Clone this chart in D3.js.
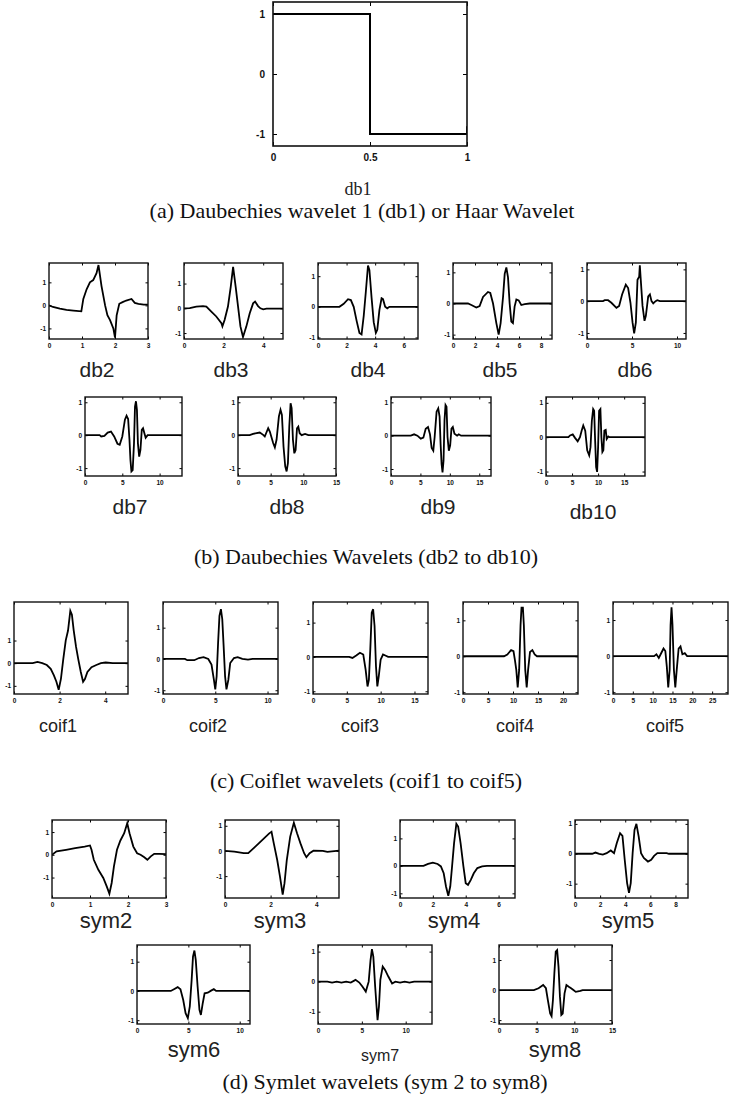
<!DOCTYPE html>
<html lang="en">
<head>
<meta charset="UTF-8">
<script src="https://cdn.jsdelivr.net/npm/d3@7"></script>
<title>Wavelet families</title>
<style>
  body { margin: 0; background: #fff; }
  .cap { font-family: "Liberation Serif", "Times New Roman", serif; font-size: 22px; fill: #111; }
  .name { font-family: "Liberation Sans", Arial, sans-serif; fill: #222; }
</style>
</head>
<body>
<svg id="fig" width="733" height="1095"></svg>
<script>
// ---- values ----
var names = ['db1','db2','db3','db4','db5','db6','db7','db8','db9','db10',
             'coif1','coif2','coif3','coif4','coif5',
             'sym2','sym3','sym4','sym5','sym6','sym7','sym8'];

var supports = [1, 3, 5, 7, 9, 11, 13, 15, 17, 19,  5, 11, 17, 23, 29,  3, 5, 7, 9, 11, 13, 15];
var yMin = [-1.2, -1.46, -1.24, -1.05, -1.14, -1.19, -1.24, -1.24, -1.21, -1.13,
            -1.36, -1.12, -1.08, -1.05, -1.05,
            -1.9, -1.87, -1.17, -1.48, -1.13, -1.41, -1.13];
var yMax = [1.2, 1.84, 1.83, 1.43, 1.3, 1.2, 1.16, 1.16, 1.16, 1.17,
            2.7, 1.82, 1.6, 1.51, 1.5,
            1.53, 1.23, 1.67, 1.13, 1.57, 1.22, 1.5];
var xTicks = [[0,0.5,1],[0,1,2,3],[0,2,4],[0,2,4,6],[0,2,4,6,8],[0,5,10],[0,5,10],[0,5,10,15],[0,5,10,15],[0,5,10,15],
              [0,2,4],[0,5,10],[0,5,10,15],[0,5,10,15,20],[0,5,10,15,20,25],
              [0,1,2,3],[0,2,4],[0,2,4,6],[0,2,4,6,8],[0,5,10],[0,5,10],[0,5,10,15]];
var yTicks = [-1, 0, 1];

var db1Pts = [[0,1],[0.5,1],[0.5,-1],[1,-1],[1,-0.87]];
var db2Pts = [[0,0],[0.12,-0.07],[0.33,-0.14],[0.53,-0.2],[0.74,-0.23],[0.98,-0.26],[1.04,0.28],[1.14,0.7],[1.24,1.0],[1.34,1.1],[1.44,1.4],[1.5,1.75],[1.59,0.85],[1.7,0],[1.77,-0.43],[1.85,-0.64],[1.95,-1.0],[2.0,-1.4],[2.05,-0.43],[2.13,0.07],[2.23,0.14],[2.34,0.21],[2.5,0.28],[2.6,0.11],[2.71,0.07],[2.87,0.03],[3,0.03]];
var db3Pts = [[0,0],[0.29,0.01],[0.62,0.07],[0.96,0.09],[1.13,0.07],[1.38,-0.13],[1.63,-0.33],[1.89,-0.6],[1.94,-0.73],[2.05,-0.47],[2.22,0.07],[2.36,0.87],[2.48,1.67],[2.61,0.87],[2.73,0.07],[2.85,-0.73],[2.98,-1.16],[3.15,-0.73],[3.32,-0.2],[3.49,0.2],[3.59,0.27],[3.74,0.09],[3.86,0],[4.0,-0.04],[4.17,-0.01],[5,-0.01]];
var db4Pts = [[0,0],[1.5,0],[1.8,0.1],[2.1,0.25],[2.3,0.22],[2.5,0],[2.7,-0.45],[2.9,-0.85],[3.05,-0.9],[3.2,-0.3],[3.35,0.5],[3.5,1.35],[3.6,1.2],[3.75,0.3],[3.9,-0.5],[4.05,-0.85],[4.15,-0.75],[4.3,-0.1],[4.45,0.28],[4.55,0.25],[4.7,0],[4.85,-0.05],[5.0,0],[7,0]];
var db5Pts = [[0,0],[1.36,0],[1.67,-0.05],[2.12,-0.13],[2.42,-0.08],[2.73,0.21],[3.18,0.37],[3.39,0.34],[3.64,0],[3.94,-0.63],[4.15,-1.0],[4.33,-0.63],[4.55,0.21],[4.7,0.95],[4.85,1.16],[5.0,0.84],[5.15,0],[5.3,-0.58],[5.45,-0.63],[5.6,-0.1],[5.76,0.13],[5.97,0.1],[6.21,-0.05],[6.52,-0.02],[6.97,0],[9,0]];
var db6Pts = [[0,0],[1.78,0],[1.97,0.03],[2.34,0.03],[2.71,-0.05],[3.27,-0.21],[3.57,-0.15],[3.9,0.21],[4.31,0.52],[4.57,0.41],[4.83,-0.05],[5.06,-0.67],[5.24,-1.01],[5.43,-0.67],[5.61,0.67],[5.8,0.77],[5.87,1.13],[5.95,0.77],[6.17,-0.15],[6.39,-0.62],[6.54,-0.46],[6.8,0.15],[6.99,0.21],[7.17,0],[7.36,-0.07],[7.62,0],[7.81,0.03],[8.1,0],[11,0]];
var db7Pts = [[0,0],[1.96,0],[2.17,-0.04],[2.6,-0.02],[3.04,0.08],[3.48,0.11],[3.91,-0.04],[4.35,-0.26],[4.65,-0.29],[5.0,-0.04],[5.35,0.47],[5.57,0.59],[5.78,0.49],[5.96,-0.14],[6.09,-0.75],[6.22,-1.1],[6.39,-1.06],[6.57,-0.24],[6.7,0.87],[6.83,1.03],[6.96,0.77],[7.09,-0.24],[7.26,-0.65],[7.43,-0.45],[7.61,0.16],[7.78,0.21],[7.96,0.06],[8.13,-0.08],[8.39,0],[13,0]];
var db8Pts = [[0,0],[1.79,0],[2.31,0.04],[3.33,0.08],[3.85,0.01],[4.1,-0.04],[4.62,0.21],[4.87,0.11],[5.38,-0.24],[5.64,-0.37],[5.9,-0.14],[6.26,0.57],[6.51,0.77],[6.72,0.62],[6.97,-0.35],[7.23,-0.95],[7.44,-1.1],[7.64,-0.85],[7.85,0.26],[8.05,0.97],[8.21,0.82],[8.41,-0.14],[8.62,-0.55],[8.82,-0.45],[9.03,0.21],[9.23,0.26],[9.44,0.06],[9.74,0],[10.26,0.04],[10.77,0],[15,0]];
var db9Pts = [[0,0],[3.37,0],[3.93,0.04],[4.49,0],[5.06,-0.09],[5.5,-0.06],[5.9,0.21],[6.29,0.26],[6.63,0.04],[6.91,-0.37],[7.19,-0.45],[7.42,-0.04],[7.75,0.72],[8.03,0.82],[8.26,0.57],[8.43,-0.24],[8.6,-0.85],[8.76,-1.1],[8.93,-0.75],[9.1,0.47],[9.27,0.92],[9.44,0.87],[9.61,-0.04],[9.83,-0.45],[10.06,-0.29],[10.28,0.21],[10.51,0.26],[10.79,0.06],[11.24,0],[11.52,0.04],[11.91,0],[17,0]];
var db10Pts = [[0,0],[4.3,0],[4.62,0.05],[5.13,0.08],[5.57,-0.02],[6.08,-0.12],[6.52,0],[6.84,0.19],[7.15,0.34],[7.53,0.19],[7.91,-0.38],[8.29,-0.53],[8.54,-0.29],[8.8,0.48],[9.05,0.82],[9.24,0.77],[9.43,-0.1],[9.62,-0.87],[9.81,-1.01],[10.0,-0.29],[10.19,0.77],[10.44,0.82],[10.63,0],[10.82,-0.43],[11.01,-0.38],[11.2,0.19],[11.46,0.21],[11.65,-0.05],[11.96,0.02],[12.2,0],[19,0]];
var coif1Pts = [[0,0],[0.82,0],[1.03,0.06],[1.24,0],[1.44,-0.08],[1.61,-0.25],[1.75,-0.54],[1.86,-0.82],[1.96,-1.17],[2.06,-0.68],[2.16,0.17],[2.27,1.01],[2.37,1.44],[2.47,2.31],[2.54,2.14],[2.62,1.44],[2.72,0.73],[2.82,0.17],[2.93,-0.39],[3.03,-0.82],[3.11,-0.7],[3.22,-0.39],[3.4,-0.18],[3.61,-0.08],[3.81,0],[4.02,0.03],[4.33,0],[5,0]];
var coif2Pts = [[0,0],[2.1,0],[2.32,-0.04],[2.99,-0.04],[3.44,0.03],[3.88,0.06],[4.33,0],[4.64,-0.18],[4.87,-0.67],[5.0,-0.97],[5.13,-0.56],[5.27,0.52],[5.4,1.38],[5.54,1.59],[5.67,1.27],[5.8,0.41],[5.94,-0.56],[6.07,-0.97],[6.25,-0.67],[6.43,-0.13],[6.79,0.03],[7.14,0.06],[7.59,0],[8.13,-0.02],[8.57,0],[11,0]];
var coif3Pts = [[0,0],[5.35,0],[5.83,-0.03],[6.39,0.04],[6.94,0.12],[7.43,0.07],[7.78,-0.37],[8.06,-0.86],[8.26,-0.67],[8.47,0.22],[8.68,1.29],[8.89,1.39],[9.1,0.9],[9.31,-0.27],[9.51,-0.86],[9.72,-0.57],[10.0,-0.08],[10.35,0.07],[10.69,0.04],[11.11,0],[17,0]];
var coif4Pts = [[0,0],[8.2,0],[8.87,0.05],[9.62,0.17],[10.1,0.14],[10.38,-0.1],[10.66,-0.38],[10.94,-0.87],[11.23,-0.38],[11.51,0.87],[11.7,1.35],[11.98,1.35],[12.17,0.87],[12.45,-0.38],[12.74,-0.87],[13.02,-0.38],[13.4,0.12],[13.87,0.17],[14.34,0.05],[14.8,0],[23,0]];
var coif5Pts = [[0,0],[10.36,0],[10.95,0.05],[11.55,-0.05],[12.14,0.08],[12.74,0.21],[13.2,0.14],[13.57,-0.29],[13.93,-0.87],[14.29,-0.38],[14.52,0.87],[14.76,1.35],[15.0,0.87],[15.36,-0.38],[15.71,-0.87],[16.07,-0.38],[16.55,0.21],[17.02,0.27],[17.5,0.05],[18.1,0.08],[18.69,0],[29,0]];
var sym2Pts = [[0,0],[0.12,0.15],[0.37,0.22],[0.61,0.29],[0.86,0.36],[1.0,0.41],[1.04,0.22],[1.1,-0.22],[1.22,-0.66],[1.35,-1.02],[1.44,-1.39],[1.51,-1.71],[1.57,-1.24],[1.63,-0.51],[1.71,0.22],[1.8,0.63],[1.9,0.95],[1.98,1.39],[2.04,0.95],[2.14,0.36],[2.24,0.07],[2.33,0],[2.42,-0.1],[2.51,-0.22],[2.6,-0.07],[2.69,0.04],[2.82,0.04],[3,0.03]];
var sym3Pts = [[0,0],[0.41,-0.03],[0.82,-0.09],[1.02,-0.09],[1.33,0.17],[1.63,0.43],[1.94,0.7],[2.04,0.76],[2.14,0.3],[2.29,-0.36],[2.41,-1.01],[2.53,-1.74],[2.61,-1.28],[2.71,-0.36],[2.86,0.57],[3.02,1.12],[3.16,0.7],[3.31,0.3],[3.47,-0.09],[3.57,-0.25],[3.71,-0.09],[3.88,0.01],[4.29,0],[4.49,-0.04],[5,0.01]];
var sym4Pts = [[0,0],[1.43,0],[1.71,0.07],[2.0,0.12],[2.29,0.07],[2.49,-0.02],[2.66,-0.27],[2.8,-0.75],[2.94,-1.09],[3.06,-0.75],[3.17,-0.02],[3.29,0.82],[3.43,1.53],[3.54,1.43],[3.69,0.82],[3.86,-0.02],[4.0,-0.63],[4.14,-0.69],[4.31,-0.51],[4.49,-0.27],[4.71,-0.08],[5.0,-0.02],[5.29,0],[7,0]];
var sym5Pts = [[0,0],[1.37,0],[1.63,0.04],[1.93,0],[2.22,-0.03],[2.52,0.02],[2.85,0.11],[3.11,0.02],[3.33,0.36],[3.59,0.69],[3.78,0.6],[3.96,-0.2],[4.15,-0.98],[4.3,-1.31],[4.44,-0.98],[4.59,0.02],[4.74,0.8],[4.89,1.0],[5.07,0.58],[5.26,0.02],[5.48,-0.14],[5.81,-0.26],[6.07,-0.2],[6.3,-0.07],[6.56,0.02],[7.3,0.02],[7.48,0],[9,0]];
var sym6Pts = [[0,0],[3.29,0],[3.6,0.06],[3.96,0.13],[4.23,0.06],[4.5,-0.31],[4.73,-0.76],[4.95,-0.93],[5.14,-0.53],[5.32,0.38],[5.45,1.17],[5.59,1.38],[5.72,1.06],[5.9,0.15],[6.08,-0.65],[6.22,-0.82],[6.4,-0.42],[6.58,-0.08],[6.89,-0.06],[7.21,0.01],[7.48,0.06],[7.7,0],[11,0]];
var sym7Pts = [[0,0],[1.07,0],[1.6,-0.03],[2.14,0],[2.67,-0.03],[3.21,0],[3.74,-0.03],[4.28,0.06],[4.71,-0.03],[5.08,-0.17],[5.45,-0.33],[5.78,0],[5.99,0.72],[6.15,1.08],[6.31,0.83],[6.52,-0.17],[6.68,-0.83],[6.79,-1.28],[6.95,-0.83],[7.11,0.06],[7.38,0.5],[7.65,0.39],[8.02,0.17],[8.45,-0.06],[8.82,0],[9.36,-0.03],[9.89,0],[10.43,-0.03],[10.96,0],[13,0]];
var sym8Pts = [[0,0],[4.63,0],[5.25,0.06],[5.86,0.17],[6.23,0.06],[6.48,-0.33],[6.79,-0.78],[6.98,-0.87],[7.16,-0.33],[7.35,0.56],[7.53,1.28],[7.72,1.33],[7.9,0.78],[8.09,-0.22],[8.27,-0.83],[8.46,-0.78],[8.7,-0.11],[8.95,0.17],[9.26,0.11],[9.57,0.06],[9.88,0],[10.19,-0.06],[10.8,-0.03],[11.1,0],[15,0]];

var curves = [db1Pts, db2Pts, db3Pts, db4Pts, db5Pts, db6Pts, db7Pts, db8Pts, db9Pts, db10Pts,
              coif1Pts, coif2Pts, coif3Pts, coif4Pts, coif5Pts,
              sym2Pts, sym3Pts, sym4Pts, sym5Pts, sym6Pts, sym7Pts, sym8Pts];

var captions = ['(a) Daubechies wavelet 1 (db1) or Haar Wavelet',
                '(b) Daubechies Wavelets (db2 to db10)',
                '(c) Coiflet wavelets (coif1 to coif5)',
                '(d) Symlet wavelets (sym 2 to sym8)'];

// ---- layout: plot boxes [left, top, width, height] and name positions [x, baseline, size] ----
var boxes = [[273,2,194,144],
  [49,263,99,76],[184,263,99,76],[318,263,100,76],[453,263,99,76],[587,263,99,76],
  [85,397,97,79],[238,397,98,79],[391,397,100,79],[546,397,99,79],
  [14,602,114,92],[163,602,115,92],[313,602,115,92],[463,602,115,92],[613,602,115,92],
  [52,820,114,78],[225,820,114,78],[400,820,115,78],[575,820,113,78],
  [137,945,113,79],[318,945,114,79],[499,945,113,79]];
var namePos = [[358,195,18],
  [97,377,21],[231,377,21],[368,377,21],[500,377,21],[635,377,21],
  [130,514,21],[287,514,21],[438,514,21],[593,519,21],
  [58,732,18],[208,732,18],[360,732,18],[515,732,18],[665,732,18],
  [106,928,22],[280,928,22],[454,928,22],[628,928,22],
  [194,1057,22],[380,1061,16],[555,1057,22]];
var capPos = [[362,218],[366,564],[366,788],[385,1089]];

var svg = d3.select('#fig');

var line = d3.line();
var fmt = function(d) { return d < 0 ? '-' + (-d) : String(d); };

names.forEach(function(name, i) {
    var b = boxes[i];
    var big = (i === 0);
    var x = d3.scaleLinear().domain([0, supports[i]]).range([b[0], b[0] + b[2]]);
    var y = d3.scaleLinear().domain([yMin[i], yMax[i]]).range([b[1] + b[3], b[1]]);
    var g = svg.append('g');
    var fs = big ? 10 : 6.5;
    var tl = big ? -4 : -2.5;

    var clipId = 'clip' + i;
    g.append('clipPath').attr('id', clipId)
      .append('rect').attr('x', b[0]).attr('y', b[1]).attr('width', b[2]).attr('height', b[3]);

    g.append('g').attr('transform', 'translate(0,' + (b[1] + b[3]) + ')')
      .call(d3.axisBottom(x).tickValues(xTicks[i]).tickFormat(fmt).tickSizeInner(tl).tickSizeOuter(0).tickPadding(big ? 8 : 4));
    g.append('g').attr('transform', 'translate(0,' + b[1] + ')')
      .call(d3.axisTop(x).tickValues(xTicks[i]).tickSizeInner(tl).tickSizeOuter(0).tickFormat(''));
    g.append('g').attr('transform', 'translate(' + b[0] + ',0)')
      .call(d3.axisLeft(y).tickValues(yTicks).tickFormat(fmt).tickSizeInner(tl).tickSizeOuter(0).tickPadding(big ? 8 : 3));
    g.append('g').attr('transform', 'translate(' + (b[0] + b[2]) + ',0)')
      .call(d3.axisRight(y).tickValues(yTicks).tickSizeInner(tl).tickSizeOuter(0).tickFormat(''));

    g.selectAll('.domain').remove();
    g.selectAll('.tick line').attr('stroke', '#000').attr('stroke-width', 1);
    g.selectAll('.tick text')
      .attr('font-family', '"Liberation Sans", Arial, sans-serif')
      .attr('font-weight', 'bold')
      .attr('font-size', fs)
      .attr('fill', '#111');

    g.append('path')
      .attr('clip-path', 'url(#' + clipId + ')')
      .attr('d', line.x(function(d) { return x(d[0]); }).y(function(d) { return y(d[1]); })(curves[i]))
      .attr('fill', 'none')
      .attr('stroke', '#000')
      .attr('stroke-width', big ? 2 : 1.8)
      .attr('stroke-linejoin', 'miter');

    g.append('rect')
      .attr('x', b[0]).attr('y', b[1]).attr('width', b[2]).attr('height', b[3])
      .attr('fill', 'none').attr('stroke', '#111').attr('stroke-width', big ? 1.6 : 1.4);

    var np = namePos[i];
    g.append('text')
      .attr('class', 'name')
      .attr('x', np[0]).attr('y', np[1])
      .attr('text-anchor', 'middle')
      .attr('font-size', np[2])
      .style('font-family', big ? '"Liberation Serif", serif' : null)
      .text(name);
});

svg.selectAll('text.cap')
  .data(captions)
  .enter()
  .append('text')
    .attr('class', 'cap')
    .attr('x', function(d, i) { return capPos[i][0]; })
    .attr('y', function(d, i) { return capPos[i][1]; })
    .attr('text-anchor', 'middle')
    .text(function(d) { return d; });
</script>
</body>
</html>
